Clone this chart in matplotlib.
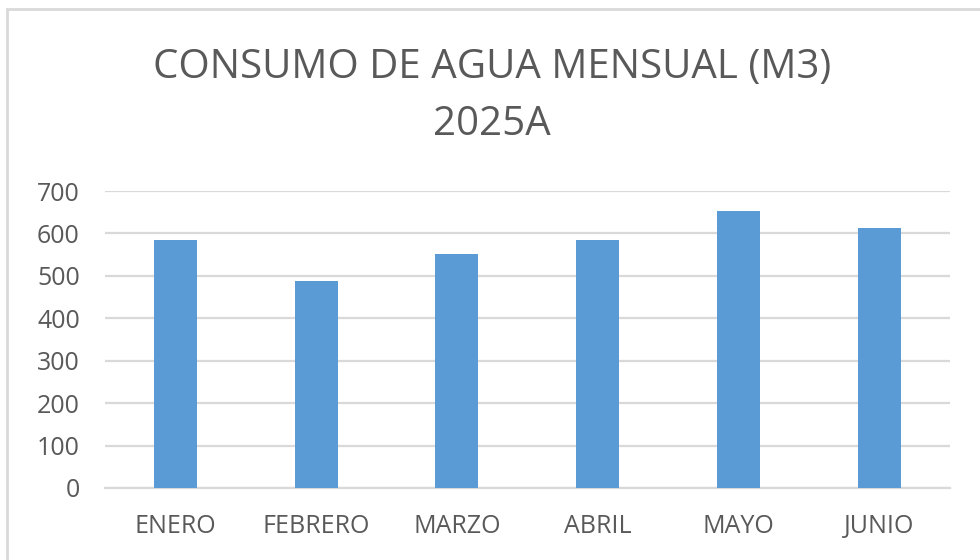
import matplotlib.pyplot as plt
from matplotlib.patches import Rectangle

months = ['ENERO', 'FEBRERO', 'MARZO', 'ABRIL', 'MAYO', 'JUNIO']
consumo = [585, 489, 552, 585, 652, 614]
y_ticks = [0, 100, 200, 300, 400, 500, 600, 700]

plt.rcParams['font.family'] = ['Open Sans', 'DejaVu Sans']
text_color = '#595959'
grid_color = '#d9d9d9'

fig = plt.figure(figsize=(9.8, 5.6), dpi=100)
ax = fig.add_axes([0.107, 0.1286, 0.862, 0.5303])

x = range(len(months))
ax.bar(x, consumo, width=0.305, color='#5b9bd5', zorder=3)

ax.set_xlim(-0.5, len(months) - 0.5)
ax.set_ylim(0, 700)
ax.set_yticks(y_ticks)
ax.set_xticks(list(x))
ax.set_xticklabels(months)
ax.yaxis.grid(True, color=grid_color, linewidth=1.6, zorder=0)
ax.set_axisbelow(True)

for side in ['top', 'right', 'left']:
    ax.spines[side].set_visible(False)
ax.spines['bottom'].set_color(grid_color)
ax.spines['bottom'].set_linewidth(1.6)

ax.tick_params(axis='both', length=0, labelsize=18, colors=text_color)
ax.tick_params(axis='y', pad=18)
ax.tick_params(axis='x', pad=19)

fig.text(0.502, 1 - 68 / 560, 'CONSUMO DE AGUA MENSUAL (M3)', ha='center', va='center',
         fontsize=29, color=text_color)
fig.text(0.502, 1 - 125 / 560, '2025A', ha='center', va='center',
         fontsize=29, color=text_color)

# light chart frame
fig.patches.append(Rectangle((7 / 980, -0.05), 1.1, 1.05 - 9 / 560,
                             transform=fig.transFigure, fill=False,
                             edgecolor=grid_color, linewidth=2))

fig.savefig('out.png', dpi=100)
